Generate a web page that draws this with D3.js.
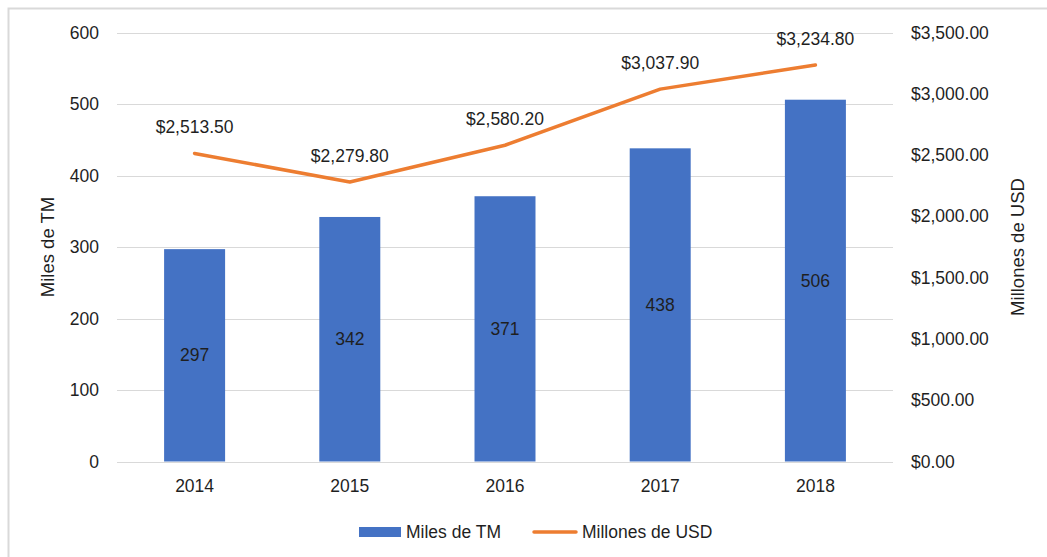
<!DOCTYPE html>
<html lang="es">
<head>
<meta charset="UTF-8">
<title>Miles de TM y Millones de USD</title>
<script src="https://cdnjs.cloudflare.com/ajax/libs/d3/7.8.5/d3.min.js"></script>
<style>
    body { margin: 0; padding: 0; background: #fff; }
    svg { display: block; font-family: "Liberation Sans", Arial, sans-serif; }
    text { fill: #1f1f1f; }
</style>
</head>
<body>
<div id="chart"></div>
<script>
    // data
    const years = ["2014", "2015", "2016", "2017", "2018"];
    const tons = [297, 342, 371, 438, 506];          // Miles de TM
    const usd = [2513.5, 2279.8, 2580.2, 3037.9, 3234.8]; // Millones de USD
    const leftTicks = [0, 100, 200, 300, 400, 500, 600];
    const rightTicks = [0, 500, 1000, 1500, 2000, 2500, 3000, 3500];

    const width = 1047, height = 557;
    const plot = { left: 117, right: 893, top: 32.5, bottom: 461.5 };
    const fs = "17.5px";

    const svg = d3.select("#chart").append("svg")
        .attr("width", width)
        .attr("height", height);

    // outer frame of the chart area
    svg.append("rect")
        .attr("x", 8.5).attr("y", 8.5)
        .attr("width", width + 10).attr("height", height + 10)
        .attr("fill", "none")
        .attr("stroke", "#d9d9d9")
        .attr("stroke-width", 2);

    const x = d3.scaleBand()
        .domain(years)
        .range([plot.left, plot.right])
        .paddingInner(0.607)
        .paddingOuter(0.3035);

    const yL = d3.scaleLinear().domain([0, 600]).range([plot.bottom, plot.top]);
    const yR = d3.scaleLinear().domain([0, 3500]).range([plot.bottom, plot.top]);

    // gridlines
    svg.append("g")
        .selectAll("line")
        .data(leftTicks)
        .join("line")
        .attr("x1", plot.left).attr("x2", plot.right)
        .attr("y1", d => Math.round(yL(d)) + 0.5)
        .attr("y2", d => Math.round(yL(d)) + 0.5)
        .attr("stroke", "#d9d9d9")
        .attr("stroke-width", 1);

    // left axis
    const axL = svg.append("g")
        .attr("transform", `translate(${plot.left},0)`)
        .call(d3.axisLeft(yL).tickValues(leftTicks).tickSize(0).tickPadding(18));
    axL.select(".domain").remove();
    axL.selectAll("text").style("font-size", fs).attr("fill", "#1f1f1f");

    // right axis
    const fmtUsd = d => "$" + d3.format(",.2f")(d);
    const axR = svg.append("g")
        .attr("transform", `translate(${plot.right},0)`)
        .call(d3.axisRight(yR).tickValues(rightTicks).tickFormat(fmtUsd).tickSize(0).tickPadding(18));
    axR.select(".domain").remove();
    axR.selectAll("text").style("font-size", fs).attr("fill", "#1f1f1f");

    // bottom axis
    const axB = svg.append("g")
        .attr("transform", `translate(0,${plot.bottom})`)
        .call(d3.axisBottom(x).tickSize(0).tickPadding(18));
    axB.select(".domain").remove();
    axB.selectAll("text").style("font-size", fs).attr("fill", "#1f1f1f");

    // bars
    svg.append("g")
        .selectAll("rect")
        .data(tons)
        .join("rect")
        .attr("x", (d, i) => x(years[i]))
        .attr("y", d => yL(d))
        .attr("width", x.bandwidth())
        .attr("height", d => yL(0) - yL(d))
        .attr("fill", "#4472C4");

    // bar labels (centered)
    svg.append("g")
        .selectAll("text")
        .data(tons)
        .join("text")
        .attr("x", (d, i) => x(years[i]) + x.bandwidth() / 2)
        .attr("y", d => (yL(d) + yL(0)) / 2)
        .attr("dy", "0.35em")
        .attr("text-anchor", "middle")
        .style("font-size", fs)
        .text(d => d);

    // line
    const line = d3.line()
        .x((d, i) => x(years[i]) + x.bandwidth() / 2)
        .y(d => yR(d));

    svg.append("path")
        .datum(usd)
        .attr("d", line)
        .attr("fill", "none")
        .attr("stroke", "#ED7D31")
        .attr("stroke-width", 3.5)
        .attr("stroke-linejoin", "round")
        .attr("stroke-linecap", "round");

    // line labels
    svg.append("g")
        .selectAll("text")
        .data(usd)
        .join("text")
        .attr("x", (d, i) => x(years[i]) + x.bandwidth() / 2)
        .attr("y", d => yR(d) - 20)
        .attr("text-anchor", "middle")
        .style("font-size", fs)
        .text(fmtUsd);

    // axis titles
    svg.append("text")
        .attr("transform", `translate(54,${(plot.top + plot.bottom) / 2}) rotate(-90)`)
        .attr("text-anchor", "middle")
        .style("font-size", "18.5px")
        .text("Miles de TM");

    svg.append("text")
        .attr("transform", `translate(1024,${(plot.top + plot.bottom) / 2}) rotate(-90)`)
        .attr("text-anchor", "middle")
        .style("font-size", "18.5px")
        .text("Millones de USD");

    // legend
    const legend = svg.append("g").attr("transform", "translate(0,532)");
    legend.append("rect")
        .attr("x", 359).attr("y", -5)
        .attr("width", 42).attr("height", 10)
        .attr("fill", "#4472C4");
    legend.append("text")
        .attr("x", 406).attr("dy", "0.35em")
        .style("font-size", fs)
        .text("Miles de TM");
    legend.append("line")
        .attr("x1", 534).attr("x2", 576)
        .attr("stroke", "#ED7D31")
        .attr("stroke-width", 3.5)
        .attr("stroke-linecap", "round");
    legend.append("text")
        .attr("x", 582).attr("dy", "0.35em")
        .style("font-size", fs)
        .text("Millones de USD");
</script>
</body>
</html>
